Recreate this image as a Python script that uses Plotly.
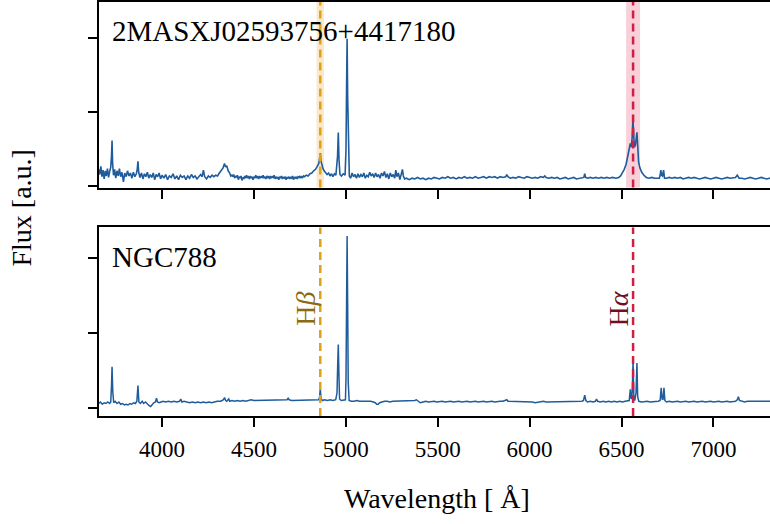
import plotly.graph_objects as go

# ---------------- data ----------------
top_name = "2MASXJ02593756+4417180"
bottom_name = "NGC788"

wl_top = [
    3655, 3661, 3667, 3673, 3679, 3685, 3691, 3697, 3703, 3709,
    3715, 3721, 3725, 3728, 3731, 3736, 3742, 3748, 3755, 3762,
    3768, 3775, 3782, 3790, 3797, 3805, 3812, 3820, 3828, 3836,
    3844, 3852, 3860, 3865, 3869, 3873, 3880, 3888, 3896, 3904,
    3912, 3920, 3928, 3936, 3944, 3952, 3960, 3968, 3976, 3984,
    3992, 4000, 4010, 4020, 4030, 4040, 4050, 4060, 4070, 4080,
    4090, 4100, 4110, 4120, 4130, 4140, 4150, 4160, 4170, 4180,
    4190, 4200, 4210, 4218, 4225, 4232, 4242, 4252, 4262, 4272,
    4282, 4292, 4302, 4312, 4322, 4332, 4340, 4346, 4352, 4360,
    4368, 4374,
    4380, 4385, 4390, 4395, 4400, 4405, 4410, 4415, 4420, 4425,
    4430, 4435, 4440, 4445, 4450, 4455, 4460, 4465, 4470, 4475,
    4480, 4485, 4490, 4495, 4500, 4505, 4510, 4515, 4520, 4525,
    4530, 4535, 4540, 4545, 4550, 4555, 4560, 4565, 4570, 4575,
    4580, 4585, 4590, 4595, 4600, 4605, 4610, 4615, 4620, 4625,
    4630, 4635, 4640, 4645, 4650, 4655, 4660, 4665, 4670, 4675,
    4680, 4685, 4690, 4695, 4700, 4705, 4710, 4715, 4720, 4725,
    4730, 4735, 4740, 4745, 4750, 4755, 4760, 4765, 4770, 4775,
    4785, 4795, 4805, 4815, 4825, 4835, 4842, 4848, 4853, 4857,
    4861, 4865, 4870, 4876, 4882, 4890, 4898, 4906, 4914, 4922,
    4930, 4938, 4946,
    4955, 4959, 4963, 4968, 4976, 4986, 4996, 5001, 5004,
    5007, 5010, 5014, 5019, 5026, 5034, 5042, 5050, 5058, 5066,
    5074, 5082, 5090, 5098, 5106, 5114, 5122, 5130, 5138, 5146,
    5154, 5162, 5170, 5178, 5186, 5194, 5202, 5210, 5218, 5226,
    5234, 5242, 5250, 5258, 5266, 5272, 5278, 5286, 5294, 5302,
    5308, 5313, 5320, 5330, 5345, 5360, 5375, 5390, 5405, 5420,
    5435, 5450, 5465, 5480, 5495, 5510, 5525, 5540, 5555, 5570,
    5585, 5600, 5615, 5630, 5645, 5660, 5675, 5690, 5705, 5720,
    5735, 5750, 5765, 5780, 5795, 5810, 5825, 5840, 5855, 5870,
    5876, 5882, 5895, 5910, 5925, 5940, 5955, 5970, 5985, 6000,
    6015, 6030, 6045, 6060, 6075, 6083, 6090, 6105, 6120, 6135,
    6150, 6165, 6180, 6195, 6210, 6225, 6240, 6255, 6270, 6285,
    6295, 6300, 6305, 6315, 6330, 6345, 6360, 6375, 6390, 6405,
    6420, 6435, 6450, 6470, 6485, 6495, 6505, 6515, 6525, 6535,
    6543, 6548, 6553, 6558, 6562, 6566, 6570, 6576, 6580, 6584,
    6588, 6593, 6600, 6610, 6622, 6635, 6650, 6665, 6680, 6695,
    6706, 6711, 6714, 6718, 6723, 6729, 6734, 6745, 6760, 6775,
    6790, 6805, 6820, 6835, 6850, 6865, 6880, 6895, 6910, 6925,
    6940, 6955, 6970, 6985, 7000, 7015, 7030, 7045, 7060, 7075,
    7090, 7105, 7120, 7130, 7140, 7155, 7170, 7185, 7200, 7215,
    7230, 7245, 7260, 7275, 7290, 7305, 7320, 7335,
]
flux_top = [
    .22, .15, .26, .12, .21, .09, .20, .13, .23, .11,
    .19, .25, .40, .61, .30, .14, .22, .10, .20, .13,
    .23, .12, .18, .05, .17, .12, .20, .13, .17, .10,
    .18, .12, .16, .22, .33, .18, .11, .17, .09, .16,
    .12, .18, .10, .15, .11, .17, .08, .15, .12, .17,
    .09, .14, .10, .15, .08, .13, .11, .16, .09, .13,
    .08, .14, .11, .13, .08, .13, .10, .15, .11, .13,
    .09, .12, .15, .12, .21, .12, .09, .13, .11, .14,
    .12, .14, .13, .17, .20, .24, .30, .25, .27, .20,
    .17, .13,
    .14, .12, .15, .10, .13, .11, .14, .08, .12, .10,
    .13, .07, .11, .09, .13, .10, .14, .11, .12, .09,
    .13, .10, .12, .08, .12, .10, .14, .11, .12, .09,
    .13, .10, .12, .11, .14, .10, .12, .09, .13, .11,
    .12, .09, .13, .10, .12, .11, .14, .09, .12, .10,
    .11, .08, .12, .10, .13, .09, .11, .10, .12, .08,
    .11, .10, .12, .09, .11, .10, .13, .08, .11, .10,
    .12, .09, .12, .11, .13, .10, .12, .11, .13, .12,
    .14, .13, .16, .17, .20, .22, .25, .27, .30, .36,
    .44, .33, .26, .23, .20, .18, .15, .17, .13, .16,
    .12, .16, .14,
    .40, .72, .35, .15, .13, .16, .14, .50, 1.30,
    1.99, 1.20, .40, .13, .10, .17, .12, .15, .10, .16,
    .11, .15, .12, .17, .10, .14, .12, .18, .13, .16,
    .11, .17, .12, .15, .10, .17, .13, .19, .11, .16,
    .09, .17, .12, .15, .10, .21, .12, .17, .08, .18,
    .22, .13, .09, .10, .08, .10, .09, .11, .09, .10,
    .08, .10, .09, .11, .10, .09, .11, .10, .12, .10,
    .11, .09, .11, .10, .12, .10, .11, .10, .12, .10,
    .11, .12, .10, .12, .11, .12, .10, .12, .11, .12,
    .15, .12, .10, .11, .10, .12, .11, .10, .12, .11,
    .10, .11, .10, .12, .11, .13, .11, .10, .11, .10,
    .11, .09, .10, .11, .09, .10, .11, .09, .10, .11,
    .11, .16, .11, .10, .11, .10, .11, .10, .11, .10,
    .11, .10, .11, .10, .11, .13, .17, .22, .29, .40,
    .50, .57, .52, .65, .90, .60, .52, .55, .66, .72,
    .55, .32, .24, .18, .14, .11, .10, .11, .10, .10,
    .10, .15, .21, .14, .13, .21, .10, .10, .11, .10,
    .11, .10, .11, .09, .10, .11, .10, .11, .10, .09,
    .10, .11, .10, .09, .10, .11, .10, .09, .10, .11,
    .10, .10, .11, .14, .10, .10, .09, .10, .11, .10,
    .09, .10, .11, .10, .09, .10, .10, .11,
]

wl_bottom = [
    3655, 3665, 3675, 3685, 3695, 3705, 3715, 3721, 3725, 3728,
    3732, 3737, 3745, 3755, 3765, 3775, 3785, 3795, 3805, 3815,
    3825, 3835, 3845, 3855, 3863, 3869, 3874, 3882, 3892, 3900,
    3910, 3920, 3930, 3938, 3946, 3955, 3964, 3970, 3975, 3985,
    3995, 4005, 4020, 4035, 4050, 4065, 4080, 4095, 4102, 4108,
    4120, 4135, 4150, 4165, 4180, 4195, 4210, 4225, 4240, 4255,
    4270, 4285, 4300, 4320, 4334, 4340, 4346, 4352, 4358, 4363,
    4368, 4380, 4395, 4410, 4425, 4440, 4455, 4470, 4485, 4500,
    4515, 4530, 4545, 4560, 4575, 4590, 4605, 4620, 4635, 4650,
    4665, 4680, 4686, 4692, 4705, 4720, 4735, 4750, 4765, 4780,
    4795, 4810, 4825, 4840, 4852, 4857, 4861, 4865, 4872, 4885,
    4900, 4915, 4930, 4945, 4952, 4956, 4959, 4962, 4966, 4975,
    4988, 4998, 5001, 5004, 5007, 5010, 5013, 5018, 5030, 5045,
    5060, 5075, 5090, 5105, 5120, 5135, 5150, 5160, 5168, 5176,
    5184, 5195, 5210, 5225, 5240, 5255, 5270, 5285, 5300, 5315,
    5330, 5345, 5360, 5375, 5384, 5395, 5405, 5420, 5435, 5450,
    5465, 5480, 5495, 5510, 5525, 5540, 5555, 5570, 5585, 5600,
    5615, 5630, 5645, 5660, 5675, 5690, 5705, 5720, 5735, 5750,
    5765, 5780, 5795, 5810, 5825, 5840, 5855, 5870, 5876, 5882,
    5895, 5910, 5925, 5940, 5955, 5970, 5985, 6000, 6015, 6030,
    6045, 6060, 6075, 6090, 6105, 6120, 6135, 6150, 6165, 6180,
    6195, 6210, 6225, 6240, 6255, 6270, 6285, 6293, 6300, 6306,
    6315, 6330, 6345, 6358, 6364, 6370, 6385, 6400, 6415, 6430,
    6445, 6460, 6475, 6490, 6505, 6520, 6535, 6542, 6548, 6553,
    6558, 6563, 6567, 6572, 6579, 6584, 6588, 6594, 6610, 6625,
    6640, 6655, 6670, 6685, 6700, 6710, 6716, 6721, 6726, 6731,
    6736, 6745, 6760, 6775, 6790, 6805, 6820, 6835, 6850, 6865,
    6880, 6895, 6910, 6925, 6940, 6955, 6970, 6985, 7000, 7015,
    7030, 7045, 7060, 7075, 7090, 7105, 7120, 7130, 7136, 7142,
    7155, 7170, 7185, 7200, 7215, 7230, 7245, 7260, 7275, 7290,
    7305, 7320, 7335,
]
flux_bottom = [
    .06, .08, .05, .07, .06, .08, .06, .08, .30, .55,
    .22, .07, .09, .06, .08, .05, .06, .04, .05, .04,
    .06, .05, .07, .06, .09, .30, .08, .06, .09, .06,
    .08, .05, .03, .02, .05, .07, .08, .13, .08, .07,
    .08, .09, .08, .09, .08, .09, .08, .09, .12, .08,
    .09, .08, .07, .08, .07, .08, .07, .08, .07, .08,
    .07, .08, .09, .09, .11, .14, .10, .09, .10, .12,
    .09, .10, .09, .10, .09, .10, .09, .10, .11, .10,
    .10, .11, .10, .10, .11, .10, .10, .11, .10, .10,
    .11, .11, .13, .11, .10, .10, .11, .10, .10, .11,
    .10, .10, .11, .10, .11, .14, .26, .13, .10, .11,
    .10, .11, .10, .11, .20, .60, .85, .50, .12, .10,
    .11, .11, .40, 1.50, 2.30, 1.40, .35, .10, .09, .09,
    .10, .09, .09, .10, .09, .09, .08, .07, .05, .05,
    .07, .08, .09, .09, .08, .09, .09, .10, .09, .09,
    .10, .09, .10, .10, .11, .09, .07, .08, .09, .08,
    .09, .09, .08, .09, .09, .08, .09, .09, .08, .09,
    .09, .08, .09, .09, .08, .09, .09, .08, .09, .09,
    .08, .09, .09, .08, .09, .09, .09, .10, .11, .09,
    .09, .08, .09, .08, .09, .08, .08, .09, .08, .07,
    .08, .08, .09, .08, .08, .09, .08, .08, .09, .08,
    .08, .09, .08, .08, .09, .08, .09, .10, .17, .10,
    .08, .09, .08, .09, .12, .09, .08, .09, .08, .09,
    .08, .09, .08, .09, .08, .09, .09, .10, .25, .12,
    .20, .62, .15, .10, .20, .60, .15, .09, .08, .09,
    .09, .08, .08, .09, .09, .10, .27, .12, .11, .27,
    .10, .08, .09, .08, .09, .09, .08, .09, .09, .08,
    .09, .09, .08, .09, .09, .08, .09, .09, .08, .09,
    .09, .08, .09, .09, .08, .09, .09, .11, .15, .10,
    .09, .08, .09, .09, .08, .09, .09, .08, .09, .09,
    .08, .09, .09,
]

assert len(wl_top) == len(flux_top), (len(wl_top), len(flux_top))
assert len(wl_bottom) == len(flux_bottom), (len(wl_bottom), len(flux_bottom))

x_ticks = [4000, 4500, 5000, 5500, 6000, 6500, 7000]
y_ticks = [0, 1, 2]
x_range = [3657, 7308]
y_range_top = [-0.027, 2.487]
y_range_bottom = [-0.107, 2.413]

lines = [("H<i>β</i>", 4861, 40), ("H<i>α</i>", 6563, 76)]
line_colors = ["#dba21e", "#cf1f45"]
band_colors = ["rgba(235,165,40,0.25)", "rgba(220,40,80,0.22)"]
label_colors = ["#8c6a10", "#6e1020"]

# ---------------- figure ----------------
FONT = "Liberation Serif"
spec_color = "#1f5c9c"

fig = go.Figure()
fig.add_trace(go.Scatter(x=wl_top, y=flux_top, mode="lines",
                         line=dict(color=spec_color, width=1.6),
                         xaxis="x2", yaxis="y2", showlegend=False))
fig.add_trace(go.Scatter(x=wl_bottom, y=flux_bottom, mode="lines",
                         line=dict(color=spec_color, width=1.5),
                         xaxis="x", yaxis="y", showlegend=False))

shapes = []
for (name, lam, bw), lc, bc in zip(lines, line_colors, band_colors):
    shapes.append(dict(type="rect", xref="x2", yref="y2 domain",
                       x0=lam - bw / 2, x1=lam + bw / 2, y0=0, y1=1,
                       fillcolor=bc, line=dict(width=0), layer="below"))
    for xr, yr in (("x2", "y2 domain"), ("x", "y domain")):
        shapes.append(dict(type="line", xref=xr, yref=yr,
                           x0=lam, x1=lam, y0=0, y1=1,
                           line=dict(color=lc, width=2.5, dash="8px,5px"),
                           layer="above"))

annotations = [
    dict(text=top_name, xref="paper", yref="paper", x=0.0164, y=0.930,
         xanchor="left", yanchor="middle", showarrow=False,
         font=dict(family=FONT, size=29, color="black")),
    dict(text=bottom_name, xref="paper", yref="paper", x=0.0164, y=0.383,
         xanchor="left", yanchor="middle", showarrow=False,
         font=dict(family=FONT, size=29, color="black")),
    dict(text="Wavelength [ Å]", xref="paper", yref="paper", x=0.504, y=-0.20,
         xanchor="center", yanchor="middle", showarrow=False,
         font=dict(family=FONT, size=28, color="black")),
    dict(text="Flux [a.u.]", xref="paper", yref="paper", x=-0.1148, y=0.5036,
         xanchor="center", yanchor="middle", showarrow=False, textangle=-90,
         font=dict(family=FONT, size=28, color="black")),
]
for (name, lam, bw), tc in zip(lines, label_colors):
    annotations.append(dict(text=name, xref="x", yref="paper", x=lam, y=0.26,
                            xshift=-15, xanchor="center", yanchor="middle",
                            showarrow=False, textangle=-90,
                            font=dict(family=FONT, size=28, color=tc)))

axis_common = dict(showline=True, linecolor="black", linewidth=2,
                   ticks="outside", tickcolor="black", ticklen=9, tickwidth=2,
                   showgrid=False, zeroline=False)

fig.update_layout(
    width=770, height=524,
    margin=dict(l=99, r=0, t=2, b=108),
    plot_bgcolor="white", paper_bgcolor="white",
    font=dict(family=FONT, size=23, color="black"),
    xaxis=dict(domain=[0, 1], range=x_range, anchor="y", tickvals=x_ticks,
               mirror=True, tickfont=dict(family=FONT, size=23),
               ticklabelstandoff=2, **axis_common),
    yaxis=dict(domain=[0, 0.4554], range=y_range_bottom, anchor="x",
               tickvals=y_ticks, showticklabels=False, **axis_common),
    xaxis2=dict(domain=[0, 1], range=x_range, anchor="y2", tickvals=x_ticks,
                matches="x", showticklabels=False, mirror=True, **axis_common),
    yaxis2=dict(domain=[0.5518, 1], range=y_range_top, anchor="x2",
                tickvals=y_ticks, showticklabels=False, **axis_common),
    shapes=shapes,
    annotations=annotations,
)

fig.write_html("out.html")
